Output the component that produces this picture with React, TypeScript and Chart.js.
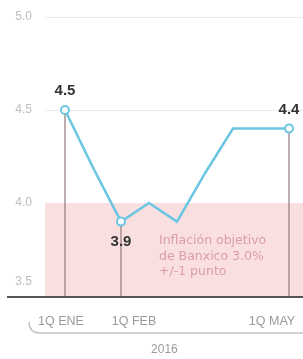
import React, { useEffect, useRef } from "react";
import { Chart, registerables } from "chart.js";

Chart.register(...registerables);

// Semi-monthly periods (index 0 = 1Q ENE ... index 8 = 1Q MAY)
const periods = ["1Q ENE", "2Q ENE", "1Q FEB", "2Q FEB", "1Q MAR", "2Q MAR", "1Q ABR", "2Q ABR", "1Q MAY"];
const inflation = [4.5, 4.19, 3.9, 4.0, 3.9, 4.16, 4.4, 4.4, 4.4];
const markedIdx = [0, 2, 8];
const labelAbove = [true, false, true];
const xTickIdx = [0, 2, 8];
const xTickLabels = ["1Q ENE", "1Q FEB", "1Q MAY"];
const yTicks = [3.5, 4.0, 4.5, 5.0];
const yTickLabels = ["3.5", "4.0", "4.5", "5.0"];
const bandFrom = 3.5;
const bandTo = 4.0;
const noteLines = ["Inflación objetivo", "de Banxico 3.0%", "+/-1 punto"];
const yearLabel = "2016";

const SANS = "'Liberation Sans', Arial, sans-serif";
const WIDE = "'DejaVu Sans', 'Liberation Sans', sans-serif";

const decorPlugin = {
  id: "decor",
  beforeDatasetsDraw(chart: any) {
    const { ctx, chartArea, scales } = chart;
    const x = scales.x;
    const y = scales.y;
    ctx.save();
    // grid lines
    ctx.strokeStyle = "#ececec";
    ctx.lineWidth = 1;
    yTicks.forEach((v) => {
      if (v === y.min) return;
      const py = Math.round(y.getPixelForValue(v)) + 0.5;
      ctx.beginPath();
      ctx.moveTo(chartArea.left, py);
      ctx.lineTo(chartArea.right, py);
      ctx.stroke();
    });
    // target band
    const top = y.getPixelForValue(bandTo);
    const bot = y.getPixelForValue(bandFrom);
    ctx.fillStyle = "#f9dfe0";
    ctx.fillRect(chartArea.left, top, chartArea.right - chartArea.left, bot - top);
    // note text
    ctx.fillStyle = "#dc9ea2";
    ctx.font = "12.5px " + WIDE;
    ctx.textAlign = "left";
    ctx.textBaseline = "middle";
    const nx = x.getPixelForValue(2) + 38;
    noteLines.forEach((t, i) => {
      ctx.fillText(t, nx, top + 38 + i * 15.5);
    });
    // drop lines
    ctx.strokeStyle = "#9a8282";
    ctx.lineWidth = 1.3;
    markedIdx.forEach((i) => {
      const px = x.getPixelForValue(i);
      ctx.beginPath();
      ctx.moveTo(px, y.getPixelForValue(inflation[i]));
      ctx.lineTo(px, bot);
      ctx.stroke();
    });
    ctx.restore();
  },
  afterDatasetsDraw(chart: any) {
    const { ctx, chartArea, scales, width } = chart;
    const x = scales.x;
    const y = scales.y;
    ctx.save();
    // baseline axis
    const by = y.getPixelForValue(y.min);
    ctx.strokeStyle = "#555555";
    ctx.lineWidth = 2;
    ctx.beginPath();
    ctx.moveTo(7, by + 1);
    ctx.lineTo(width, by + 1);
    ctx.stroke();
    // y tick labels
    ctx.fillStyle = "#bdbdbd";
    ctx.font = "12px " + SANS;
    ctx.textAlign = "right";
    ctx.textBaseline = "middle";
    yTicks.forEach((v, i) => {
      let py = y.getPixelForValue(v);
      if (v === y.min) py -= 14;
      ctx.fillText(yTickLabels[i], chartArea.left - 13, py);
    });
    // data labels
    ctx.fillStyle = "#333333";
    ctx.font = "bold 15px " + SANS;
    ctx.textAlign = "center";
    markedIdx.forEach((i, k) => {
      const px = x.getPixelForValue(i);
      const py = y.getPixelForValue(inflation[i]);
      ctx.fillText(inflation[i].toFixed(1), px, labelAbove[k] ? py - 19 : py + 20);
    });
    // x tick labels
    ctx.fillStyle = "#9a9a9a";
    ctx.font = "12.5px " + SANS;
    ctx.textBaseline = "middle";
    const shifts = [-4, 13, -17];
    xTickIdx.forEach((i, k) => {
      ctx.fillText(xTickLabels[k], x.getPixelForValue(i) + shifts[k], by + 26);
    });
    // bracket
    const bky = by + 37;
    ctx.strokeStyle = "#c4c4c4";
    ctx.lineWidth = 1.5;
    ctx.beginPath();
    ctx.moveTo(29, bky - 11);
    ctx.quadraticCurveTo(29, bky, 40, bky);
    ctx.lineTo(width, bky);
    ctx.stroke();
    // year
    ctx.fillStyle = "#9a9a9a";
    ctx.font = "12px " + SANS;
    ctx.fillText(yearLabel, x.getPixelForValue(3.55), bky + 17);
    ctx.restore();
  },
};

export default function App() {
  const ref = useRef<HTMLCanvasElement>(null);
  useEffect(() => {
    if (!ref.current) return;
    const chart = new Chart(ref.current, {
      type: "line",
      data: {
        datasets: [
          {
            data: inflation.map((v, i) => ({ x: i, y: v })),
            borderColor: "#6cc6e2",
            borderWidth: 2.5,
            backgroundColor: "#ffffff",
            pointRadius: inflation.map((_, i) => (markedIdx.includes(i) ? 4 : 0)),
            pointBorderWidth: 2,
            pointBorderColor: "#6cc6e2",
            pointBackgroundColor: "#ffffff",
            tension: 0,
            fill: false,
            clip: 6,
          },
        ],
        labels: periods,
      },
      options: {
        responsive: false,
        animation: false,
        events: [],
        layout: { autoPadding: false, padding: { left: 45, top: 17, right: 0, bottom: 63 } },
        plugins: { legend: { display: false }, tooltip: { enabled: false } },
        scales: {
          x: { type: "linear", min: -0.714, max: 8.5, display: false },
          y: { type: "linear", min: 3.5, max: 5.0, display: false },
        },
      },
      plugins: [decorPlugin],
    });
    return () => chart.destroy();
  }, []);
  return (
    <div style={{ position: "fixed", left: 0, top: 0, width: 303, height: 359, background: "#fff" }}>
      <canvas ref={ref} width={303} height={359} />
    </div>
  );
}
